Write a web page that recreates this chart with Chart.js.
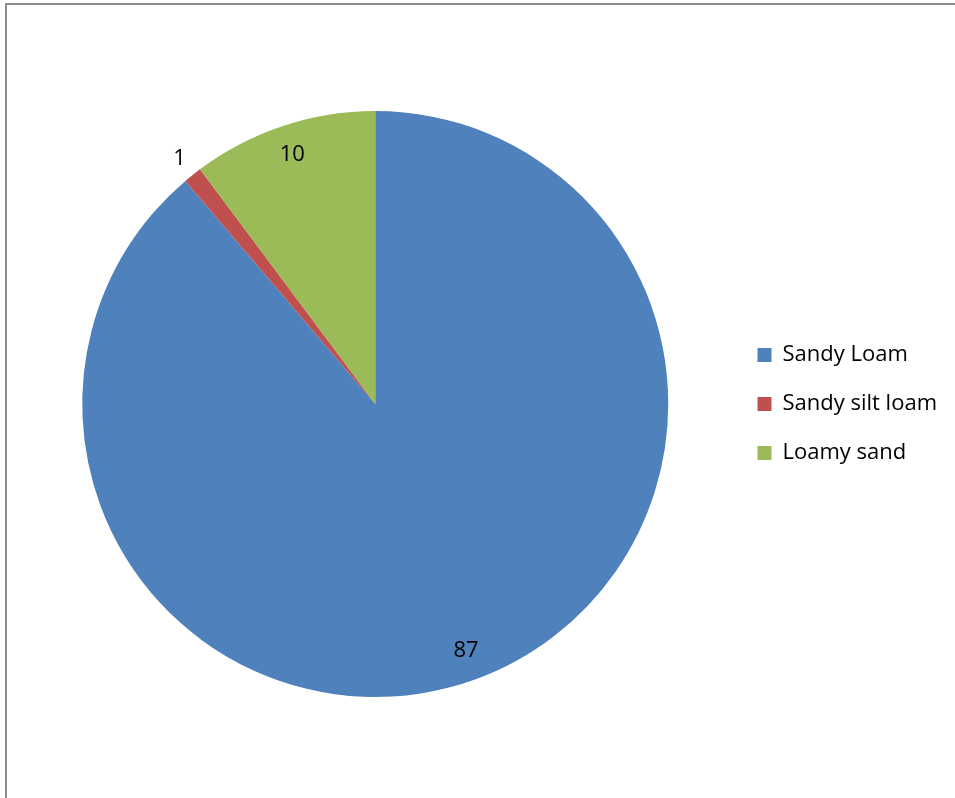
<!DOCTYPE html>
<html>
<head>
<meta charset="utf-8">
<script src="https://cdn.jsdelivr.net/npm/chart.js@4.4.1/dist/chart.umd.min.js"></script>
<style>
  html, body { margin: 0; padding: 0; background: #fff; overflow: hidden; }
  #frame {
    position: absolute; left: 5px; top: 3px;
    width: 1200px; height: 1200px;
    border-top: 2px solid #8c8c8c; border-left: 2px solid #8c8c8c;
  }
  #wrap { position: absolute; left: 0; top: 0; width: 955px; height: 798px; }
</style>
</head>
<body>
<div id="frame"></div>
<div id="wrap"><canvas id="soilChart"></canvas></div>
<script>
// Soil texture share (%)
const categories = ["Sandy Loam", "Sandy silt loam", "Loamy sand"];
const values = [87, 1, 10];
const colors = ["#4F81BD", "#C0504D", "#9BBB59"];

const FONT = "'Open Sans', sans-serif";

// value labels: inside the slice near the rim, small slices go outside
const sliceLabels = {
  id: "sliceLabels",
  afterDatasetsDraw(chart) {
    const ctx = chart.ctx;
    const meta = chart.getDatasetMeta(0);
    const total = values.reduce((a, b) => a + b, 0);
    ctx.save();
    ctx.font = "22px " + FONT;
    ctx.fillStyle = "#000";
    ctx.textAlign = "center";
    ctx.textBaseline = "middle";
    meta.data.forEach((arc, i) => {
      const p = arc.getProps(["x", "y", "startAngle", "endAngle", "outerRadius"], true);
      const mid = (p.startAngle + p.endAngle) / 2;
      const r = values[i] / total < 0.03 ? p.outerRadius + 21 : p.outerRadius - 30;
      ctx.fillText(String(values[i]), p.x + Math.cos(mid) * r, p.y + Math.sin(mid) * r);
    });
    ctx.restore();
  }
};

new Chart(document.getElementById("soilChart"), {
  type: "pie",
  data: {
    labels: categories,
    datasets: [{
      data: values,
      backgroundColor: colors,
      borderWidth: 0
    }]
  },
  options: {
    responsive: true,
    maintainAspectRatio: false,
    animation: false,
    layout: { padding: { top: 111, bottom: 101, left: 20, right: 8 } },
    plugins: {
      legend: {
        position: "right",
        labels: {
          boxWidth: 14,
          boxHeight: 14,
          padding: 27,
          color: "#000",
          font: { family: FONT, size: 22 }
        }
      },
      tooltip: { enabled: false }
    }
  },
  plugins: [sliceLabels]
});
</script>
</body>
</html>
